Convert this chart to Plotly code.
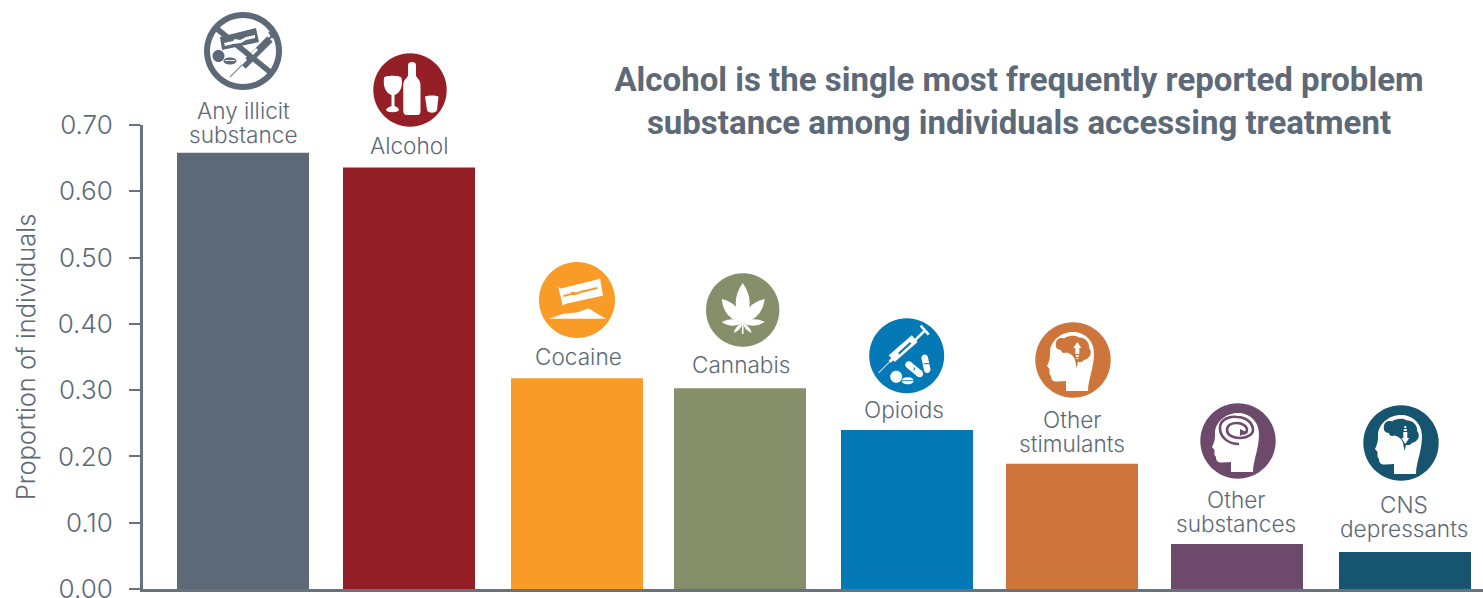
import re
import math
import plotly.graph_objects as go

# ---------- data ----------
categories = ["Any illicit substance", "Alcohol", "Cocaine", "Cannabis", "Opioids",
              "Other stimulants", "Other substances", "CNS depressants"]
values = [0.658, 0.636, 0.318, 0.303, 0.240, 0.189, 0.068, 0.056]
colors = ["#5d6977", "#951f27", "#f99b27", "#858f6a", "#0479b5", "#ce753c", "#6d496c", "#16546f"]
label_lines = [["Any illicit", "substance"], ["Alcohol"], ["Cocaine"], ["Cannabis"], ["Opioids"],
               ["Other", "stimulants"], ["Other", "substances"], ["CNS", "depressants"]]
tick_values = [0, 0.1, 0.2, 0.3, 0.4, 0.5, 0.6, 0.7]
title_lines = ["Alcohol is the single most frequently reported problem",
               "substance among individuals accessing treatment"]
y_title = "Proportion of individuals"

# ---------- layout constants (pixels in the 1483x598 page) ----------
W, H = 1483, 598
L, T, B = 143, 125, 9
PW, PH = W - L, H - T - B
STEP = 166.0
TEXT = "#5d6977"
AXIS = "#66727f"
FONT = "Inter"
LABEL_CENTER_X = [243, 409, 578, 741, 904, 1072, 1236, 1404]
LABEL_FIRST_Y = [110, 146, 357, 365, 410, 419, 499, 504]
LABEL_STEP = 24
ICONS = [(243, 51, 39), (410, 90, 36.7), (577, 300, 38), (742.7, 310, 36.7),
         (906.7, 355.7, 37.5), (1073, 360, 37.7), (1238, 441, 37.7), (1401, 443, 37.7)]
BAR_NUDGE = [0, 0, 2, -1, 0, -1, -2, 0]
BAR_CENTER_X = [243 + i * STEP for i in range(8)]
BAR_W = 132 / STEP


# ---------- icon path helpers: paths written with y pointing down, relative to the icon centre ----------
def flip(p):
    out = []
    for cmd, args in re.findall(r"([MLCQZ])([^MLCQZ]*)", p):
        nums = [float(n) for n in re.findall(r"-?\d*\.?\d+", args)]
        out.append(cmd + " " + " ".join(f"{-n if i % 2 else n:.2f}" for i, n in enumerate(nums)))
    return " ".join(out)


def circle(cx, cy, r, ry=None):
    ry = ry or r
    k = 0.5523
    return (f"M {cx-r} {cy} C {cx-r} {cy-k*ry} {cx-k*r} {cy-ry} {cx} {cy-ry} "
            f"C {cx+k*r} {cy-ry} {cx+r} {cy-k*ry} {cx+r} {cy} "
            f"C {cx+r} {cy+k*ry} {cx+k*r} {cy+ry} {cx} {cy+ry} "
            f"C {cx-k*r} {cy+ry} {cx-r} {cy+k*ry} {cx-r} {cy} Z")


def bar(x0, y0, x1, y1, w):
    d = math.hypot(x1 - x0, y1 - y0)
    nx, ny = -(y1 - y0) / d * w / 2, (x1 - x0) / d * w / 2
    return (f"M {x0+nx} {y0+ny} L {x1+nx} {y1+ny} L {x1-nx} {y1-ny} L {x0-nx} {y0-ny} Z")


def capsule(x0, y0, x1, y1, w, c):
    return [(bar(x0, y0, x1, y1, w), c), (circle(x0, y0, w / 2), c), (circle(x1, y1, w / 2), c)]


def poly(*pts):
    return "M " + " L ".join(f"{x} {y}" for x, y in pts) + " Z"


def leaf(bx, by, tx, ty, w):
    mx, my = bx + (tx - bx) * 0.5, by + (ty - by) * 0.5
    d = math.hypot(tx - bx, ty - by)
    nx, ny = -(ty - by) / d * w, (tx - bx) / d * w
    return f"M {bx} {by} Q {mx+nx} {my+ny} {tx} {ty} Q {mx-nx} {my-ny} {bx} {by} Z"


HEAD = ("M 15 31 C 15 20 21 8 21 -7 C 21 -20 11 -28 0 -28 C -13 -28 -23 -18 -23 -8 "
        "C -23 -3 -23 0 -26 6 L -23.5 9 L -23.5 14 L -22 16 C -22 20 -20 22 -15 21.5 L -7 21 L -7 31 Z")
BRAIN = ("M -17 -17 C -17 -21 -12 -23 -9 -21.5 C -5 -25 3 -25 6 -22.5 C 12 -23 17 -17 16 -12 "
         "C 20 -8 17 -1 11 0 C 9 3 6 2 5 2 L 3.5 8 L 2 0 C 1 -4 -3 -7 -7 -7.5 "
         "C -10 -6 -12 -8 -12 -10 C -16 -10 -18 -13 -17 -17 Z")
SPIRAL = ("M 1 3 C -10 3 -18 -4 -18 -13 C -18 -22 -8 -25 -1 -24 C 8 -24 15 -18 15 -11 "
          "C 15 -6 8 -3 2 -3 C -5 -3 -11 -6 -11 -11 C -11 -16 -6 -18 -1 -18 C 4 -18 9 -15 9 -11 "
          "C 9 -8 6 -7 3 -8")
W_ = "#ffffff"


def syringe(c, cut):
    return [
        (bar(-28, 17, -17, 6, 0.9), c),
        (bar(-17, 6, -13, 2, 3), c),
        (bar(-15, 3, 8, -17, 9), c),
        (bar(6, -13, 18, -25, 2.6), c),
        (bar(14, -30, 22, -21, 2.6), c),
        (bar(-8, -2, 4, -13, 2.2), cut),
    ]


def icon_parts(i, col):
    if i == 0:
        parts = [(circle(0, 0, 39), col), (circle(0, 0, 33), W_)]
        parts += [(bar(-27, -23, 27, 21, 5.5), col)]
        parts += [(poly((-23, -14), (13, -23), (16, -9), (-21, -1)), col),
                  (poly((-19, -8), (-10, -10), (-8, -12), (-3, -11), (3, -14), (12, -16), (12, -13), (3, -11), (-2, -8), (-10, -7), (-18, -5)), W_)]
        parts += [(bar(-13, 26, 3, 10, 1), col), (bar(0, 15, 27, -12, 7.5), col),
                  (bar(24, -10, 31, -17, 2), col), (bar(26, -19, 30, -13, 2), col),
                  (bar(-2, 13, 3, 8, 2.8), W_), (bar(9, 3, 14, -2, 2.8), W_)]
        parts += [(circle(-24.5, 5, 6), col), (circle(-13, 10, 6.5, 3.5), col), (bar(-18, 9.5, -8, 9.5, 0.9), W_)]
        return parts
    parts = [(circle(0, 0, ICONS[i][2]), col)]
    if i == 1:
        parts += [
            ("M -2 -25 C -2 -29 6 -29 6 -25 L 6 -15 C 6 -12 10.5 -11 10.5 -5 L 10.5 21 C 10.5 25 8 25 7 25 "
             "L -3 25 C -5 25 -6.7 24 -6.7 21 L -6.7 -5 C -6.7 -11 -2 -12 -2 -15 Z", W_),
            ("M -26 -12 C -26 -15 -9 -15 -8.5 -12 C -7 -5 -9 3 -15.5 5 L -15.5 16 C -12 17 -11 19 -11 20 "
             "C -12 23 -23 23 -24 20 C -24 19 -22 17 -18.5 16 L -18.5 5 C -25 3 -27 -5 -26 -12 Z", W_),
            ("M 15 6.5 C 18 5 26 5 28.5 6.5 L 27 20 C 26 23.5 18 23.5 17 20 Z", W_),
        ]
    elif i == 2:
        parts += [
            (poly((-18.7, -13), (-16, -11.5), (22, -21), (23, -22), (26, -3.7), (24, -4), (-12, 4), (-14.3, 5.7)), W_),
            (poly((-14, -5), (-7, -6.5), (-5, -8.5), (-1, -7.5), (5, -9.5), (10, -10.5), (20, -13), (20.5, -11), (10, -8.5), (4, -7), (-1, -5), (-6, -5), (-13, -3)), col),
            (poly((-27.7, 18.7), (-13.7, 13.7), (1.3, 12.3), (11.3, 8.3), (19, 13), (29, 18.7)), W_),
        ]
    elif i == 3:
        for t, w in [((0, -27), 14), ((-21, -11), 11.5), ((22, -11), 11.5), ((-21, 12), 6.5), ((22, 12), 6.5),
                     ((-9, 23), 3.5), ((9, 23), 3.5)]:
            parts.append((leaf(0, 13, t[0], t[1], w), W_))
        parts.append((bar(0, 10, 0, 24, 1.6), W_))
    elif i == 4:
        parts += syringe(W_, col)
        parts += capsule(2, 9, 13, 18, 7, W_) + capsule(18, 2, 20.5, 14, 6.5, W_)
        parts += [(circle(-10.5, 21, 6), W_), (circle(1, 25, 6, 3.5), W_)]
        parts += [(bar(7, 15, 8, 12, 1), col), (bar(17, 8, 23, 8, 1), col), (bar(-5, 25, 7, 25, 0.9), col)]
    elif i in (5, 7):
        parts += [(HEAD, W_), (BRAIN, col)]
        if i == 5:
            parts += [(poly((4.3, -18), (0.3, -12), (8.3, -12)), W_), (bar(4.3, -12, 4.3, -6, 4), W_),
                      (bar(4.3, -5, 4.3, -3, 3), W_), (bar(4.3, -2, 4.3, -1, 2), W_)]
        else:
            parts += [(poly((4.3, 1), (0.3, -5), (8.3, -5)), W_), (bar(4.3, -11, 4.3, -5, 4), W_),
                      (bar(4.3, -14, 4.3, -12, 3), W_), (bar(4.3, -17, 4.3, -15, 2), W_)]
    elif i == 6:
        parts += [(HEAD, W_), (poly((2, -12), (8, -9), (2, -5)), col)]
    return parts


shapes = []
for i, col in enumerate(colors):
    cx, cy, _ = ICONS[i]
    for path, fill in icon_parts(i, col):
        shapes.append(dict(type="path", xref="paper", yref="paper", xsizemode="pixel", ysizemode="pixel",
                           xanchor=(cx - L) / PW, yanchor=(H - B - cy) / PH, path=flip(path),
                           fillcolor=fill, line=dict(width=0), layer="above"))
    if i == 6:
        shapes.append(dict(type="path", xref="paper", yref="paper", xsizemode="pixel", ysizemode="pixel",
                           xanchor=(cx - L) / PW, yanchor=(H - B - cy) / PH, path=flip(SPIRAL),
                           fillcolor="rgba(0,0,0,0)", line=dict(width=2.6, color=col), layer="above"))

# ---------- bar labels, positioned from each bar's value ----------
annotations = []
for i, lines in enumerate(label_lines):
    bar_top_px = H - B - values[i] / 0.7 * PH
    for j, line in enumerate(lines):
        annotations.append(dict(
            x=categories[i], y=values[i], xref="x", yref="y", text=line, showarrow=False,
            xanchor="center", yanchor="middle",
            xshift=LABEL_CENTER_X[i] - BAR_CENTER_X[i],
            yshift=bar_top_px - (LABEL_FIRST_Y[i] + j * LABEL_STEP),
            font=dict(family=FONT, size=22.6, weight=300, color=TEXT)))

fig = go.Figure(go.Bar(x=categories, y=values, marker=dict(color=colors, line=dict(width=0)),
                       width=BAR_W, offset=[-BAR_W / 2 + d / STEP for d in BAR_NUDGE], hoverinfo="x+y"))
fig.update_layout(
    width=W, height=H, margin=dict(l=L, r=0, t=T, b=B), autosize=False,
    paper_bgcolor="white", plot_bgcolor="white", showlegend=False,
    title=dict(text="<b>" + "<br>".join(title_lines) + "</b>", x=1019 / W, xanchor="center",
               y=1 - 91 / H, yanchor="middle", font=dict(family="Roboto", size=33, color=TEXT)),
    xaxis=dict(type="category", categoryorder="array", categoryarray=categories, automargin=False,
               range=[-100 / STEP, 1240 / STEP], showticklabels=False, ticks="", showgrid=False, zeroline=False,
               showline=True, linecolor=AXIS, linewidth=3),
    yaxis=dict(range=[0, 0.7], tickmode="array", tickvals=tick_values, tickformat=".2f", automargin=False,
               ticks="outside", ticklen=11, tickwidth=2, tickcolor=AXIS, showgrid=False, zeroline=False,
               showline=True, linecolor=AXIS, linewidth=3, ticklabelstandoff=11, ticklabeloverflow="allow",
               tickfont=dict(family=FONT, size=26, weight=300, color=TEXT),
               title=dict(text=y_title, font=dict(family=FONT, size=25.4, weight=300, color=TEXT))),
    shapes=shapes, annotations=annotations,
)
fig.write_html("out.html", post_script="document.body.style.margin='0';", config={"displayModeBar": False})
